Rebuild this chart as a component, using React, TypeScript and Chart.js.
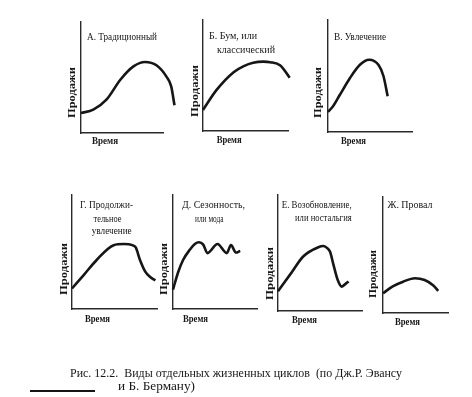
import React, { useEffect, useRef } from "react";
import { Chart, registerables } from "chart.js";
Chart.register(...registerables);

// ---- texts ----
const timeLabel = "Время";
const salesLabel = "Продажи";
const captionLine1 = "Рис. 12.2.  Виды отдельных жизненных циклов  (по Дж.Р. Эвансу";
const captionLine2 = "и Б. Берману)";

const aTitle = ["А. Традиционный"];
const bTitle = ["Б. Бум, или", "классический"];
const cTitle = ["В. Увлечение"];
const gTitle = ["Г. Продолжи-", "тельное", "увлечение"];
const dTitle = ["Д. Сезонность,", "или мода"];
const eTitle = ["Е. Возобновление,", "или ностальгия"];
const fTitle = ["Ж. Провал"];

// ---- series (time 0..100 along the axis, sales 0..100 of axis height) ----
const aX = [0, 15, 31, 48, 64, 78, 92, 104, 110, 114];
const aY = [18, 21, 30, 48, 60, 64, 61, 51, 42, 25];

const bX = [0, 16, 36, 48, 59, 71, 79, 91, 102];
const bY = [19, 37, 53, 58.5, 61.5, 62.5, 62, 59, 48];

const cX = [0, 6, 14, 26, 38, 49, 60, 66, 71];
const cY = [18, 23, 33, 48, 60, 64.5, 60, 50, 32];

const gX = [0, 14, 29, 49, 61, 71, 75, 80, 86, 92, 98];
const gY = [18, 30, 43, 56, 57, 56, 54, 43, 33, 28, 25];

const dX = [0, 6, 12, 20, 26, 31, 36, 41, 53, 64, 69, 75, 80];
const dY = [17, 32, 43, 52, 57, 58.5, 56.5, 49, 57, 49, 56, 49.5, 51];

const eX = [0, 15, 30, 48, 54, 59, 62, 66, 71, 76, 79, 84];
const eY = [17, 32, 47, 55, 56, 54, 51, 40, 27, 21, 22.5, 25.5];

const fX = [0, 15, 31, 49, 64, 77, 85];
const fY = [17, 23, 27, 30, 28.5, 24, 19];

// ---- layout (page coordinates) ----
const W = 472;
const H = 397;
const SERIF = '"Liberation Serif", "DejaVu Serif", serif';

type Box = { l: number; t: number; r: number; b: number };
type TitlePos = { x0: number; x1: number; y: number };
type PanelCfg = {
  xs: number[];
  ys: number[];
  title: string[];
  box: Box;
  titlePos: TitlePos[];
  time: TitlePos;
  sales: { cx: number; y0: number; y1: number };
};

const PANELS: PanelCfg[] = [
  {
    xs: aX, ys: aY, title: aTitle,
    box: { l: 81, t: 22, r: 163, b: 133 },
    titlePos: [{ x0: 87, x1: 157, y: 37.5 }],
    time: { x0: 92, x1: 118, y: 141 },
    sales: { cx: 71.7, y0: 67, y1: 118 },
  },
  {
    xs: bX, ys: bY, title: bTitle,
    box: { l: 203, t: 20, r: 288, b: 131 },
    titlePos: [{ x0: 209, x1: 257, y: 36.5 }, { x0: 217, x1: 275, y: 50 }],
    time: { x0: 216.7, x1: 241.7, y: 140 },
    sales: { cx: 195, y0: 65, y1: 117 },
  },
  {
    xs: cX, ys: cY, title: cTitle,
    box: { l: 328, t: 20, r: 412, b: 132 },
    titlePos: [{ x0: 334, x1: 386, y: 37.5 }],
    time: { x0: 341, x1: 366, y: 141 },
    sales: { cx: 318.3, y0: 67, y1: 118 },
  },
  {
    xs: gX, ys: gY, title: gTitle,
    box: { l: 72, t: 195, r: 157, b: 309 },
    titlePos: [
      { x0: 80, x1: 133, y: 205 },
      { x0: 93.5, x1: 121.5, y: 219 },
      { x0: 91.7, x1: 131.7, y: 231.5 },
    ],
    time: { x0: 85, x1: 110, y: 319 },
    sales: { cx: 63.7, y0: 243, y1: 295 },
  },
  {
    xs: dX, ys: dY, title: dTitle,
    box: { l: 173, t: 195, r: 257, b: 309 },
    titlePos: [{ x0: 182, x1: 245, y: 205.5 }, { x0: 195, x1: 223.5, y: 219 }],
    time: { x0: 183, x1: 208, y: 319 },
    sales: { cx: 164.5, y0: 243, y1: 295 },
  },
  {
    xs: eX, ys: eY, title: eTitle,
    box: { l: 278, t: 195, r: 362, b: 311 },
    titlePos: [{ x0: 281.7, x1: 351.7, y: 205.5 }, { x0: 295, x1: 351.7, y: 218.3 }],
    time: { x0: 292, x1: 317, y: 320 },
    sales: { cx: 270, y0: 247, y1: 300 },
  },
  {
    xs: fX, ys: fY, title: fTitle,
    box: { l: 383, t: 197, r: 448, b: 313 },
    titlePos: [{ x0: 387.5, x1: 432.5, y: 205 }],
    time: { x0: 395, x1: 420, y: 322 },
    sales: { cx: 373.3, y0: 250, y1: 298 },
  },
];

const INK = "#161616";

function fitText(ctx: CanvasRenderingContext2D, text: string, x0: number, x1: number, y: number, font: string) {
  ctx.save();
  ctx.font = font;
  ctx.fillStyle = INK;
  ctx.textAlign = "left";
  ctx.textBaseline = "middle";
  const w = ctx.measureText(text).width || 1;
  ctx.translate(x0, y);
  ctx.scale((x1 - x0) / w, 1);
  ctx.fillText(text, 0, 0);
  ctx.restore();
}

function fitTextVertical(ctx: CanvasRenderingContext2D, text: string, cx: number, y0: number, y1: number, font: string) {
  ctx.save();
  ctx.font = font;
  ctx.fillStyle = INK;
  ctx.textAlign = "left";
  ctx.textBaseline = "middle";
  const w = ctx.measureText(text).width || 1;
  ctx.translate(cx, y1);
  ctx.rotate(-Math.PI / 2);
  ctx.scale((y1 - y0) / w, 1);
  ctx.fillText(text, 0, 0);
  ctx.restore();
}

function makeTextPlugin(cfg: PanelCfg, withCaption: boolean) {
  return {
    id: "panelText",
    afterDraw(chart: Chart) {
      const ctx = chart.ctx;
      cfg.title.forEach((t, i) => {
        const p = cfg.titlePos[i];
        fitText(ctx, t, p.x0, p.x1, p.y, `11px ${SERIF}`);
      });
      fitText(ctx, timeLabel, cfg.time.x0, cfg.time.x1, cfg.time.y, `bold 11px ${SERIF}`);
      fitTextVertical(ctx, salesLabel, cfg.sales.cx, cfg.sales.y0, cfg.sales.y1, `bold 11px ${SERIF}`);
      if (withCaption) {
        fitText(ctx, captionLine1, 70, 402, 374, `13px ${SERIF}`);
        fitText(ctx, captionLine2, 118, 195, 387, `13px ${SERIF}`);
        ctx.save();
        ctx.strokeStyle = INK;
        ctx.lineWidth = 2;
        ctx.beginPath();
        ctx.moveTo(30, 391);
        ctx.lineTo(95, 391);
        ctx.stroke();
        ctx.restore();
      }
    },
  };
}

function Panel({ cfg, withCaption }: { cfg: PanelCfg; withCaption: boolean }) {
  const ref = useRef<HTMLCanvasElement | null>(null);
  useEffect(() => {
    if (!ref.current) return;
    const common = {
      type: "linear" as const,
      bounds: "data" as const,
      ticks: { display: false },
      grid: { display: false, drawTicks: false },
      border: { display: true, color: "#2a2a2a", width: 1.4 },
    };
    const chart = new Chart(ref.current, {
      type: "line",
      data: {
        datasets: [
          {
            data: cfg.xs.map((x, i) => ({ x, y: cfg.ys[i] })),
            borderColor: INK,
            borderWidth: 2.6,
            pointRadius: 0,
            fill: false,
            cubicInterpolationMode: "monotone",
            clip: false,
          } as any,
        ],
      },
      options: {
        responsive: false,
        animation: false,
        layout: {
          padding: { left: cfg.box.l, top: cfg.box.t, right: W - cfg.box.r, bottom: H - cfg.box.b },
        },
        plugins: { legend: { display: false }, tooltip: { enabled: false }, title: { display: false } },
        scales: {
          // the time axis spans 0..100; a curve may run on past its drawn end
          x: {
            ...common,
            afterDataLimits: (s: any) => {
              s.min = 0;
              s.max = 100;
            },
          },
          y: { ...common, min: 0, max: 100 },
        } as any,
      },
      plugins: [makeTextPlugin(cfg, withCaption)],
    });
    return () => chart.destroy();
  }, []);
  return (
    <canvas
      ref={ref}
      width={W}
      height={H}
      style={{ position: "absolute", left: 0, top: 0, width: W, height: H }}
    />
  );
}

export default function App() {
  return (
    <div style={{ position: "fixed", left: 0, top: 0, width: W, height: H, background: "#fff", overflow: "hidden" }}>
      {PANELS.map((p, i) => (
        <Panel key={i} cfg={p} withCaption={i === 0} />
      ))}
    </div>
  );
}
